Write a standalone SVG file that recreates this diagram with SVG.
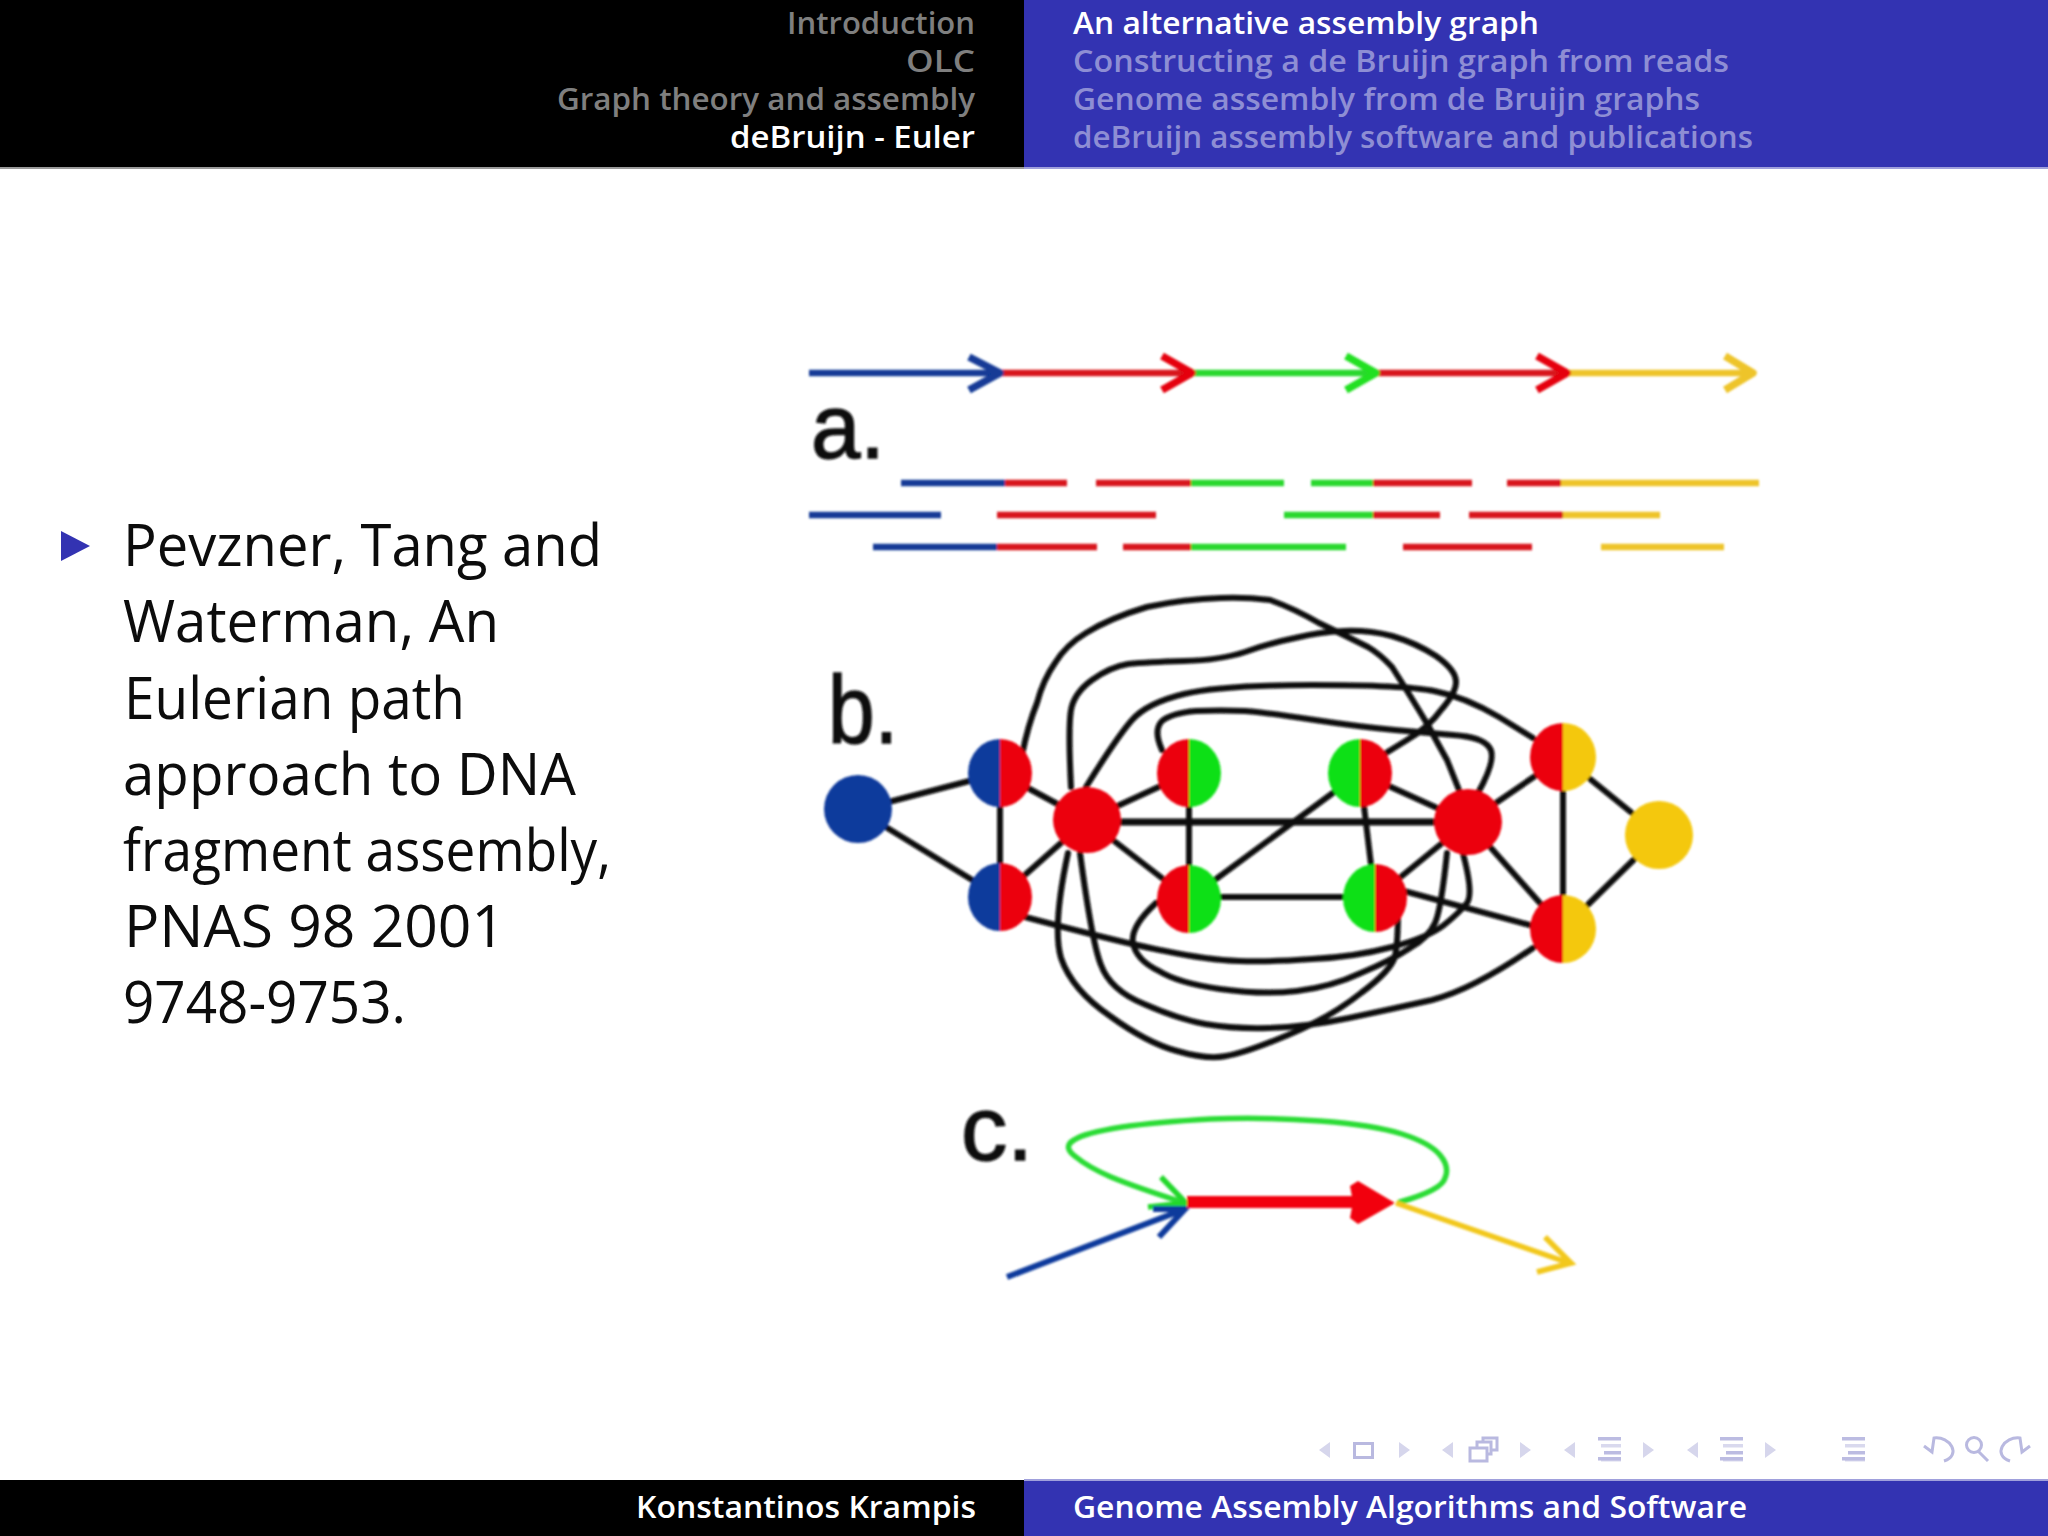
<svg xmlns="http://www.w3.org/2000/svg" width="2048" height="1536" viewBox="0 0 2048 1536">
<style>
.t{font-family:"Open Sans","Liberation Sans",sans-serif}
.h{font-size:31px;font-weight:600;fill:#7f7f7f;text-anchor:end}
.h2{font-size:31px;font-weight:600;fill:#8e8ed4}
.w{fill:#fff}
.f{font-size:31px;font-weight:600;fill:#fff}
.b{font-size:58px;fill:#0c0c0c}
.l{font-family:"Liberation Sans",sans-serif;font-size:96px;fill:#111;stroke:#111;stroke-width:1.500}
.e{fill:none;stroke:#0c0c0c;stroke-width:6;stroke-linecap:round;stroke-linejoin:round}
.r{fill:none;stroke-width:6.500;stroke-linecap:butt}
.ch{fill:none;stroke-width:7.500;stroke-linejoin:round}
.nb{stroke:#103a9c}.nr{stroke:#e5060c}.ng{stroke:#22e022}.ny{stroke:#f2c81c}
.rb{stroke:#123a96}.rr{stroke:#d8141c}.rg{stroke:#2ad82e}.ry{stroke:#eec42a}
.i1{fill:#d6d6ec}.i2{fill:none;stroke:#b9b9e0;stroke-width:3}.i3{fill:#bcbce2}.i4{fill:#d9d9ee}
</style>
<defs>
<filter id="soft" x="-5%" y="-5%" width="110%" height="110%"><feGaussianBlur stdDeviation="1"/></filter>
<g id="nl">
<rect class="i3" x="0" y="0" width="23" height="3.500"/><rect class="i4" x="3" y="7" width="20" height="3.500"/><rect class="i3" x="6" y="14" width="17" height="3.500"/><rect class="i4" x="3" y="21" width="20" height="3.500"/>
</g>
</defs>
<rect width="2048" height="1536" fill="#fff"/>
<g id="header">
<rect x="0" y="0" width="1024" height="168" fill="#000"/>
<rect x="1024" y="0" width="1024" height="168" fill="#3333b2"/>
<rect x="0" y="167" width="1024" height="2" fill="#9a9a9a"/>
<rect x="1024" y="167" width="1024" height="2" fill="#a0a0dc"/>
<text class="t h" x="975" y="34" textLength="188" lengthAdjust="spacingAndGlyphs">Introduction</text>
<text class="t h" x="975" y="72" textLength="69" lengthAdjust="spacingAndGlyphs">OLC</text>
<text class="t h" x="975" y="110" textLength="418" lengthAdjust="spacingAndGlyphs">Graph theory and assembly</text>
<text class="t h w" x="975" y="148" textLength="245" lengthAdjust="spacingAndGlyphs">deBruijn - Euler</text>
<text class="t h2 w" x="1073" y="34" textLength="466" lengthAdjust="spacingAndGlyphs">An alternative assembly graph</text>
<text class="t h2" x="1073" y="72" textLength="656" lengthAdjust="spacingAndGlyphs">Constructing a de Bruijn graph from reads</text>
<text class="t h2" x="1073" y="110" textLength="627" lengthAdjust="spacingAndGlyphs">Genome assembly from de Bruijn graphs</text>
<text class="t h2" x="1073" y="148" textLength="680" lengthAdjust="spacingAndGlyphs">deBruijn assembly software and publications</text>
</g>
<g id="bullet-text">
<polygon points="61,531 90,546 61,561" fill="#3333b2"/>
<text class="t b" x="123" y="566" textLength="479" lengthAdjust="spacingAndGlyphs">Pevzner, Tang and</text>
<text class="t b" x="123" y="642" textLength="376" lengthAdjust="spacingAndGlyphs">Waterman, An</text>
<text class="t b" x="124" y="719" textLength="341" lengthAdjust="spacingAndGlyphs">Eulerian path</text>
<text class="t b" x="123" y="795" textLength="453" lengthAdjust="spacingAndGlyphs">approach to DNA</text>
<text class="t b" x="123" y="871" textLength="488" lengthAdjust="spacingAndGlyphs">fragment assembly,</text>
<text class="t b" x="124" y="947" textLength="381" lengthAdjust="spacingAndGlyphs">PNAS 98 2001</text>
<text class="t b" x="123" y="1023" textLength="283" lengthAdjust="spacingAndGlyphs">9748-9753.</text>
</g>
<g id="panel-a" filter="url(#soft)">
<path class="r rb" d="M809 373H998"/><path class="r rr" d="M998 373H1190"/><path class="r rg" d="M1190 373H1375"/><path class="r rr" d="M1375 373H1565"/><path class="r ry" d="M1565 373H1750"/>
<path class="ch rb" d="M969 357L1000 373L969 390"/><path class="ch nr" d="M1162 356L1192 373L1162 390"/><path class="ch nr" style="stroke:#22e022" d="M1346 356L1376 373L1346 390"/><path class="ch nr" d="M1537 356L1567 373L1537 390"/><path class="ch ry" d="M1725 356L1753 373L1725 390"/>
<text class="l" x="811" y="458" font-size="90" style="font-size:90px" textLength="74" lengthAdjust="spacingAndGlyphs">a.</text>
<path class="r rb" d="M901 483H1005M809 515H941M873 547H997"/>
<path class="r rr" d="M1005 483H1067M1096 483H1191M1373 483H1472M1507 483H1561M997 515H1156M1373 515H1440M1469 515H1563M997 547H1097M1123 547H1191M1403 547H1532"/>
<path class="r rg" d="M1191 483H1284M1311 483H1373M1284 515H1373M1191 547H1346"/>
<path class="r ry" d="M1561 483H1759M1563 515H1660M1601 547H1724"/>
</g>
<g id="panel-b" filter="url(#soft)">
<g id="connectors">
<path class="e" d="M858 810L1000 773M858 810L1000 897"/>
<path class="e" d="M1000 773V897M1000 773L1087 820M1000 897L1087 820"/>
<path class="e" d="M1087 820L1189 773M1087 820L1189 899M1189 773V899"/>
<path class="e" style="stroke-width:7" d="M1087 822H1468"/>
<path class="e" d="M1189 899L1360 773M1189 897H1375M1360 773L1375 898"/>
<path class="e" d="M1360 773L1468 822M1375 898L1468 822M1468 822L1563 757M1468 822L1563 929M1563 757V929M1563 757L1659 835M1563 929L1659 835M1378 884L1563 934"/>
<path class="e" d="M1022 755Q1028 725 1037 703Q1043 680 1055 663Q1066 645 1086 633Q1110 618 1147 607Q1184 599 1221 598Q1245 597 1270 600Q1295 609 1319 623Q1344 635 1368 647Q1380 654 1392 667Q1410 695 1429 727Q1438 744 1447 760L1459 790"/>
<path class="e" d="M1071 787Q1068 727 1071 710Q1074 693 1092 680Q1110 667 1128 664Q1147 662 1184 661Q1221 660 1245 652Q1270 643 1295 638Q1319 632 1344 631Q1368 630 1392 636Q1416 643 1436 656Q1456 670 1456 682Q1456 693 1441 710Q1429 727 1407 740L1386 753"/>
<path class="e" d="M1086 787Q1117 737 1132 720Q1147 703 1184 694Q1221 685 1312 685Q1404 685 1434 691Q1465 697 1499 717L1533 738"/>
<path class="e" d="M1162 750Q1153 730 1162 721Q1172 713 1196 711Q1221 710 1245 711Q1270 713 1315 720Q1361 727 1395 730Q1429 733 1453 735Q1482 737 1489 747Q1498 757 1478 793"/>
<path class="e" d="M1025 917Q1123 943 1165 951Q1208 960 1239 961Q1270 962 1312 959Q1355 957 1392 947Q1429 937 1444 925Q1459 913 1467 903Q1474 893 1462 850"/>
<path class="e" d="M1156 903Q1130 927 1133 943Q1136 960 1159 971Q1178 983 1220 989Q1263 995 1297 991Q1331 987 1361 973Q1392 960 1410 948Q1429 937 1435 923Q1441 910 1447 853"/>
<path class="e" d="M1080 853Q1092 943 1101 965Q1110 990 1144 1004Q1178 1019 1205 1024Q1233 1029 1269 1028Q1306 1027 1349 1018Q1392 1009 1432 1000Q1472 990 1533 948"/>
<path class="e" d="M1068 853Q1052 927 1061 958Q1072 990 1110 1016Q1147 1043 1177 1051Q1208 1060 1226 1056Q1245 1053 1288 1035Q1331 1017 1361 993Q1392 970 1395 956Q1398 943 1398 910"/>
</g>
<g id="n1"><ellipse cx="858" cy="809" rx="34" ry="34" fill="#103a9c"/></g>
<g id="n2"><path d="M1000 739A32 34 0 0 0 1000 807Z" fill="#103a9c"/><path d="M1000 739A32 34 0 0 1 1000 807Z" fill="#ec0410"/></g>
<g id="n3"><path d="M1000 863A32 34 0 0 0 1000 931Z" fill="#103a9c"/><path d="M1000 863A32 34 0 0 1 1000 931Z" fill="#ec0410"/></g>
<g id="n4"><ellipse cx="1087" cy="820" rx="34" ry="33" fill="#ec0410"/></g>
<g id="n5"><path d="M1189 739A32 34 0 0 0 1189 807Z" fill="#ec0410"/><path d="M1189 739A32 34 0 0 1 1189 807Z" fill="#10e018"/></g>
<g id="n6"><path d="M1189 865A32 34 0 0 0 1189 933Z" fill="#ec0410"/><path d="M1189 865A32 34 0 0 1 1189 933Z" fill="#10e018"/></g>
<g id="n7"><path d="M1360 739A32 34 0 0 0 1360 807Z" fill="#10e018"/><path d="M1360 739A32 34 0 0 1 1360 807Z" fill="#ec0410"/></g>
<g id="n8"><path d="M1375 864A32 34 0 0 0 1375 932Z" fill="#10e018"/><path d="M1375 864A32 34 0 0 1 1375 932Z" fill="#ec0410"/></g>
<g id="n9"><ellipse cx="1468" cy="822" rx="34" ry="33" fill="#ec0410"/></g>
<g id="n10"><path d="M1563 723A33 34 0 0 0 1563 791Z" fill="#ec0410"/><path d="M1563 723A33 34 0 0 1 1563 791Z" fill="#f4c808"/></g>
<g id="n11"><path d="M1563 895A33 34 0 0 0 1563 963Z" fill="#ec0410"/><path d="M1563 895A33 34 0 0 1 1563 963Z" fill="#f4c808"/></g>
<g id="n12"><ellipse cx="1659" cy="835" rx="34" ry="34" fill="#f4c808"/></g>
<text class="l" x="828" y="743" textLength="70" lengthAdjust="spacingAndGlyphs">b.</text>
</g>
<g id="panel-c" filter="url(#soft)">
<text class="l" x="961" y="1160" style="font-size:90px" textLength="72" lengthAdjust="spacingAndGlyphs">c.</text>
<path fill="none" stroke="#2cdc34" stroke-width="5.500" stroke-linecap="round" d="M1400 1202Q1442 1190 1445 1178Q1450 1167 1440 1155Q1430 1143 1402 1134Q1374 1125 1320 1121Q1266 1117 1211 1119Q1157 1122 1122 1127Q1084 1133 1074 1140Q1062 1147 1076 1157Q1088 1167 1111 1177Q1135 1187 1185 1203"/>
<path fill="none" stroke="#22d82c" stroke-width="5.500" d="M1161 1177L1186 1203L1148 1207"/>
<path fill="none" stroke="#103a9c" stroke-width="6" d="M1007 1277L1185 1209M1153 1209L1185 1209L1159 1237"/>
<path fill="none" stroke="#f2c81c" stroke-width="5.500" d="M1396 1203L1569 1263M1545 1237L1571 1263L1537 1272"/>
<path fill="none" stroke="#f20008" stroke-width="12" d="M1187 1202H1375"/>
<path fill="#f20008" d="M1395 1203L1358 1181L1350 1186L1353 1202L1350 1218L1358 1224Z"/>
</g>
<g id="footer">
<rect x="0" y="1480" width="1024" height="56" fill="#000"/>
<rect x="1024" y="1480" width="1024" height="56" fill="#3333b2"/>
<rect x="1024" y="1479" width="1024" height="2" fill="#a0a0dc"/>
<text class="t f" x="636" y="1518" textLength="340" lengthAdjust="spacingAndGlyphs">Konstantinos Krampis</text>
<text class="t f" x="1073" y="1518" textLength="674" lengthAdjust="spacingAndGlyphs">Genome Assembly Algorithms and Software</text>
</g>
<g id="nav">
<polygon class="i1" points="1330,1442 1319,1450 1330,1458"/>
<rect class="i2" x="1354.500" y="1443.500" width="18" height="14"/>
<polygon class="i1" points="1399,1442 1410,1450 1399,1458"/>
<polygon class="i1" points="1453,1442 1442,1450 1453,1458"/>
<rect class="i2" x="1483" y="1438" width="14" height="12"/><rect class="i2" x="1477" y="1442" width="14" height="12" style="fill:#fff"/><rect class="i2" x="1470" y="1448" width="17" height="13" style="fill:#fff"/>
<polygon class="i1" points="1520,1442 1531,1450 1520,1458"/>
<polygon class="i1" points="1575,1442 1564,1450 1575,1458"/>
<use href="#nl" x="1598" y="1437"/><rect class="i3" x="1598" y="1457" width="23" height="3.500"/>
<polygon class="i1" points="1643,1442 1654,1450 1643,1458"/>
<polygon class="i1" points="1698,1442 1687,1450 1698,1458"/>
<use href="#nl" x="1720" y="1437"/><rect class="i3" x="1720" y="1457" width="23" height="3.500"/>
<polygon class="i1" points="1765,1442 1776,1450 1765,1458"/>
<use href="#nl" x="1842" y="1437"/><rect class="i3" x="1842" y="1457" width="23" height="3.500"/>
<path class="i2" d="M1924 1446L1932 1452L1934 1438C1950 1436 1962 1455 1944 1461"/>
<circle class="i2" cx="1974" cy="1445" r="7.500"/><path class="i2" d="M1978 1451L1988 1461"/>
<path class="i2" d="M2030 1446L2022 1452L2020 1438C2004 1436 1992 1455 2010 1461"/>
</g>
</svg>
